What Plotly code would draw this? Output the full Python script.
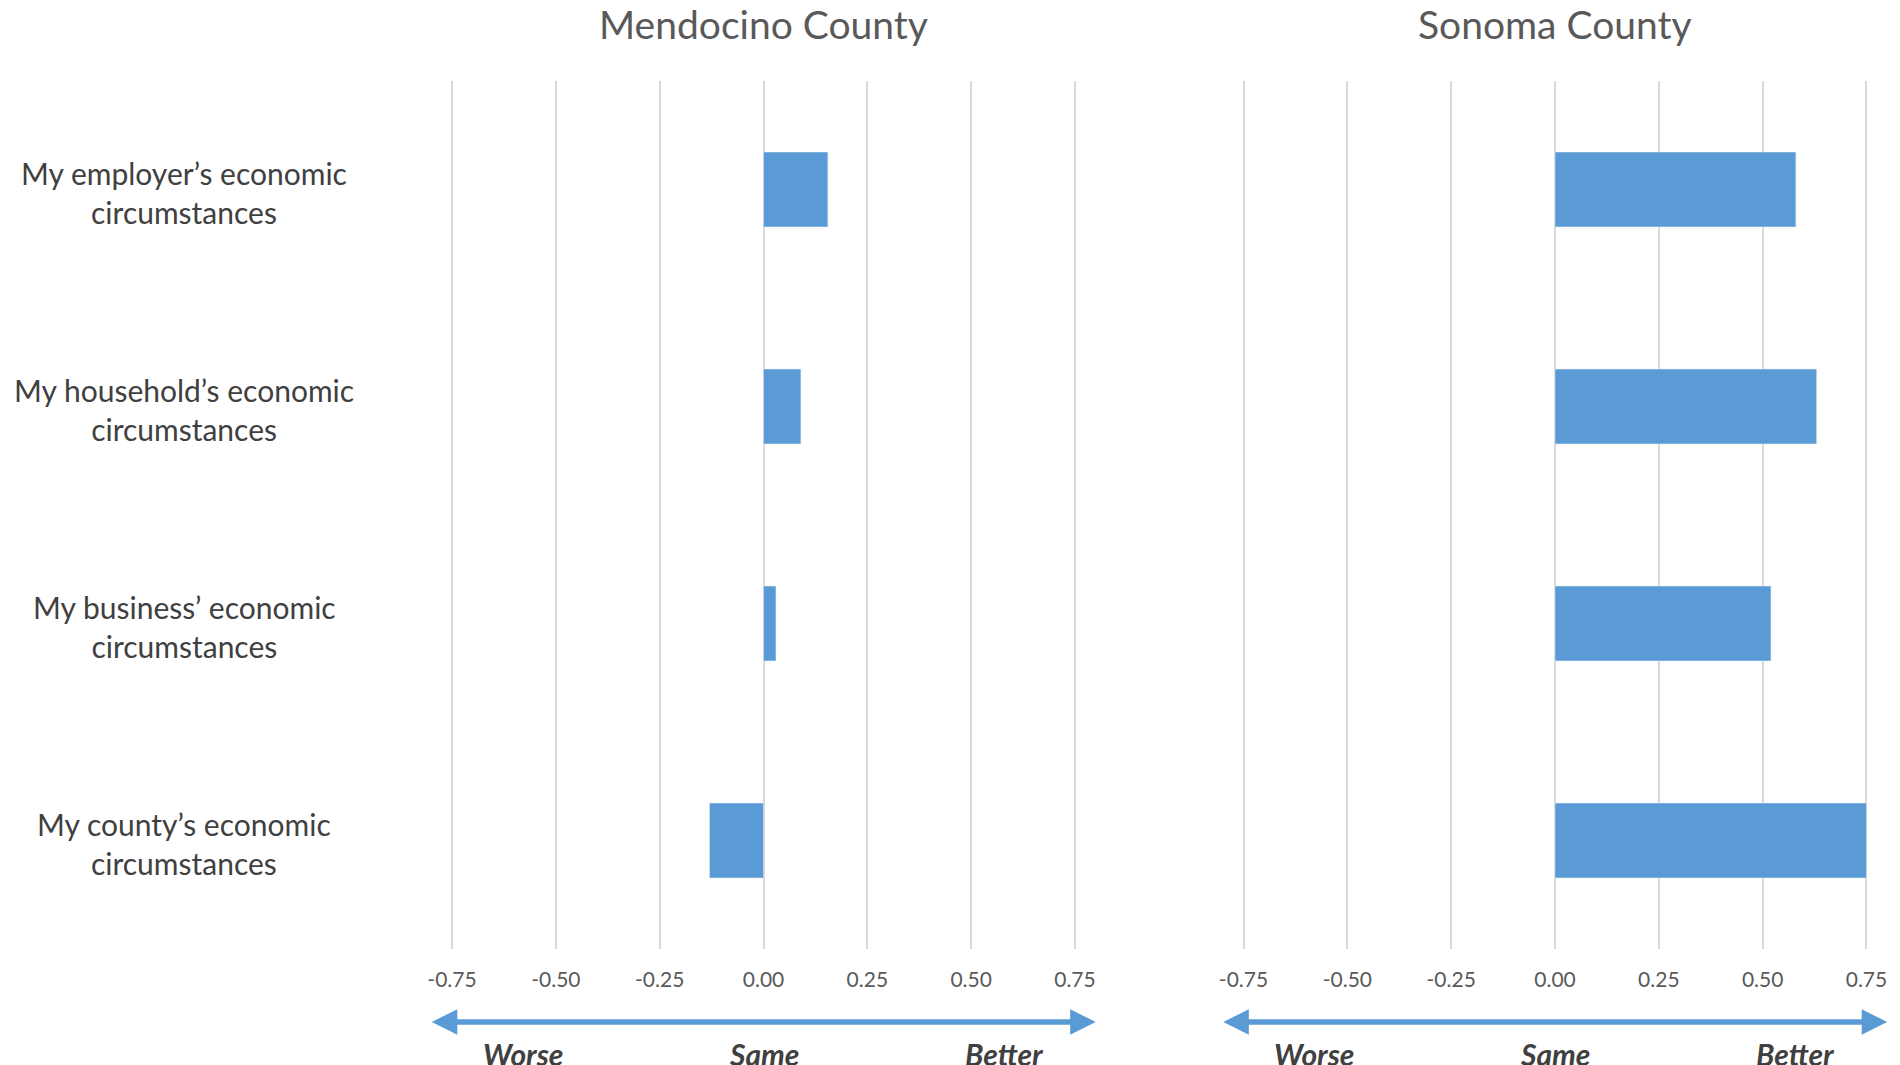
import plotly.graph_objects as go

# data
categories = [
    "My employer’s economic<br>circumstances",
    "My household’s economic<br>circumstances",
    "My business’ economic<br>circumstances",
    "My county’s economic<br>circumstances",
]
mendocino = [0.155, 0.09, 0.03, -0.13]
sonoma = [0.58, 0.63, 0.52, 0.75]
panel_titles = ["Mendocino County", "Sonoma County"]
tick_vals = [-0.75, -0.5, -0.25, 0, 0.25, 0.5, 0.75]
tick_text = ["-0.75", "-0.50", "-0.25", "0.00", "0.25", "0.50", "0.75"]
scale_words = ["Worse", "Same", "Better"]
scale_pos = [-0.58, 0, 0.58]

BLUE = "#5b9bd5"
FONT = "Lato"
W, H = 1900, 1065
OFF = 8  # page body margin


def fx(px):
    return (px - OFF) / W


def fy(py):
    return 1 - (py - OFF) / H


# pixel layout of the two panels
UNIT = 415.3
XR = 0.76
zeros = [763.5, 1555.0]
doms = [[fx(z - XR * UNIT), fx(z + XR * UNIT)] for z in zeros]


def xdom(v):
    # data value -> fraction of the axis domain
    return (v + XR) / (2 * XR)


fig = go.Figure()
fig.add_trace(go.Bar(y=categories, x=mendocino, orientation="h",
                     marker=dict(color=BLUE), xaxis="x", yaxis="y"))
fig.add_trace(go.Bar(y=categories, x=sonoma, orientation="h",
                     marker=dict(color=BLUE), xaxis="x2", yaxis="y2"))

xcommon = dict(range=[-XR, XR], tickvals=tick_vals, ticktext=tick_text,
               showgrid=True, gridcolor="#d9d9d9", gridwidth=1.5,
               zeroline=False, showline=False, fixedrange=True, automargin=False,
               ticks="outside", ticklen=12, tickcolor="rgba(0,0,0,0)",
               tickfont=dict(family=FONT, size=21, color="#595959"))
ycommon = dict(categoryorder="array", categoryarray=categories[::-1],
               showticklabels=False, showgrid=False, zeroline=False, automargin=False,
               domain=[fy(949), fy(81)])

annotations = []
# panel titles
for title, dom in zip(panel_titles, doms):
    annotations.append(dict(text=title, x=(dom[0] + dom[1]) / 2, y=fy(24),
                            xref="paper", yref="paper", showarrow=False,
                            xanchor="center", yanchor="middle",
                            font=dict(family=FONT, size=39, color="#595959")))
# category labels
for c in categories:
    annotations.append(dict(text=c, x=fx(184), y=c, xref="paper", yref="y",
                            showarrow=False, xanchor="center", align="center",
                            yshift=-2.5,
                            font=dict(family=FONT, size=30, color="#404040")))
# double arrows and words below axes
for xr in ["x", "x2"]:
    annotations.append(dict(text=" ", x=xdom(0.8), y=fy(1022), ax=xdom(-0.8), ay=0,
                            xref=xr + " domain", yref="paper", axref=xr + " domain",
                            ayref="pixel", font=dict(size=1), borderpad=0,
                            showarrow=True, arrowhead=2, arrowside="end+start",
                            arrowwidth=5.5, arrowsize=0.93, arrowcolor=BLUE))
    for w, p in zip(scale_words, scale_pos):
        annotations.append(dict(text="<b><i>" + w + "</i></b>", x=p, y=fy(1054),
                                xref=xr, yref="paper", showarrow=False,
                                xanchor="center", yanchor="middle",
                                font=dict(family=FONT, size=30, color="#404040")))

fig.update_layout(
    width=W, height=H,
    margin=dict(l=0, r=0, t=0, b=0, autoexpand=False),
    paper_bgcolor="white", plot_bgcolor="white",
    showlegend=False, bargap=0.655,
    xaxis=dict(domain=doms[0], anchor="y", **xcommon),
    xaxis2=dict(domain=doms[1], anchor="y2", **xcommon),
    yaxis=dict(anchor="x", **ycommon),
    yaxis2=dict(anchor="x2", **ycommon),
    annotations=annotations,
)

fig.write_html("out.html")
